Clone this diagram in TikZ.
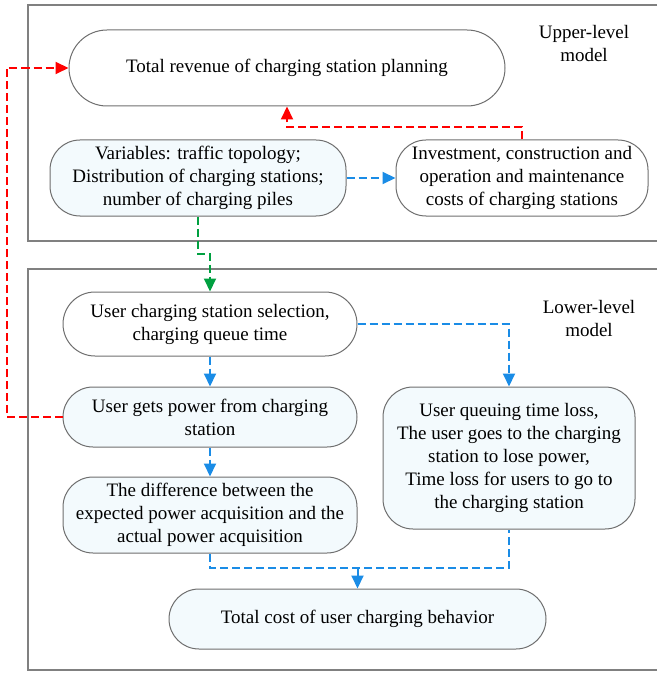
\documentclass[tikz,border=0pt]{standalone}
\usepackage{fontspec}
\setmainfont{Liberation Serif}
\usetikzlibrary{arrows.meta}
\definecolor{frameg}{HTML}{808080}
\definecolor{boxg}{HTML}{6E6E6E}
\definecolor{lfill}{HTML}{F3FAFD}
\definecolor{cred}{HTML}{FF0000}
\definecolor{cblue}{HTML}{1A8CE6}
\definecolor{cgreen}{HTML}{00A040}
\begin{document}
\begin{tikzpicture}[x=1pt,y=-1pt,
  every node/.style={font=\fontsize{19}{23}\selectfont},
  box/.style={draw=boxg, line width=1pt, align=center, inner sep=0pt},
  frame/.style={draw=frameg, line width=1.6pt},
  conn/.style={line width=2pt, dash pattern=on 8pt off 4pt},
  tip/.style={-{Triangle[length=13pt,width=12pt]}},
  lbl/.style={align=center}]
\useasboundingbox (0,0) rectangle (657,676);
% frames
\draw[frame] (657,5) -| (28,241) -- (657,241);
\draw[frame] (657,269) -| (28,670) -- (657,670);
% nodes
\node[box, minimum width=436pt, minimum height=76pt, rounded corners=38pt] (rev) at (287,68) {Total revenue of charging station planning};
\node[box, fill=lfill, minimum width=296pt, minimum height=76pt, rounded corners=30pt] (var) at (198,178) {Variables: traffic topology;\\Distribution of charging stations;\\number of charging piles};
\node[box, minimum width=252pt, minimum height=76pt, rounded corners=30pt] (inv) at (522,178) {Investment, construction and\\operation and maintenance\\costs of charging stations};
\node[box, minimum width=294pt, minimum height=64pt, rounded corners=32pt] (sel) at (210,324) {User charging station selection,\\charging queue time};
\node[box, fill=lfill, minimum width=294pt, minimum height=60pt, rounded corners=30pt] (get) at (210,417) {User gets power from charging\\station};
\node[box, fill=lfill, minimum width=252pt, minimum height=142pt, rounded corners=30pt] (que) at (509,458) {User queuing time loss,\\The user goes to the charging\\station to lose power,\\Time loss for users to go to\\the charging station};
\node[box, fill=lfill, minimum width=294pt, minimum height=76pt, rounded corners=30pt] (dif) at (210,515) {The difference between the\\expected power acquisition and the\\actual power acquisition};
\node[box, fill=lfill, minimum width=377pt, minimum height=60pt, rounded corners=30pt] (tot) at (357.5,619) {Total cost of user charging behavior};
\node[lbl] (up) at (584,44) {Upper-level\\model};
\node[lbl] (low) at (589,318) {Lower-level\\model};
% connectors
\draw[conn, tip, cred] (inv.north) -- ++(0,-12) -| (rev.south);
\draw[conn, tip, cred] (get.west) -- ++(-56,0) |- (rev.west);
\draw[conn, tip, cblue] (var.east) -- (inv.west);
\draw[conn, tip, cgreen] (var.south) -- ++(0,37) -| (sel.north);
\draw[conn, tip, cblue] (sel.east) -| (que.north);
\draw[conn, tip, cblue] (sel.south) -- (get.north);
\draw[conn, tip, cblue] (get.south) -- (dif.north);
\draw[conn, cblue] (dif.south) -- ++(0,14) coordinate (j1) -| (que.south);
\draw[conn, tip, cblue] (tot.north |- j1) -- (tot.north);
\end{tikzpicture}
\end{document}
